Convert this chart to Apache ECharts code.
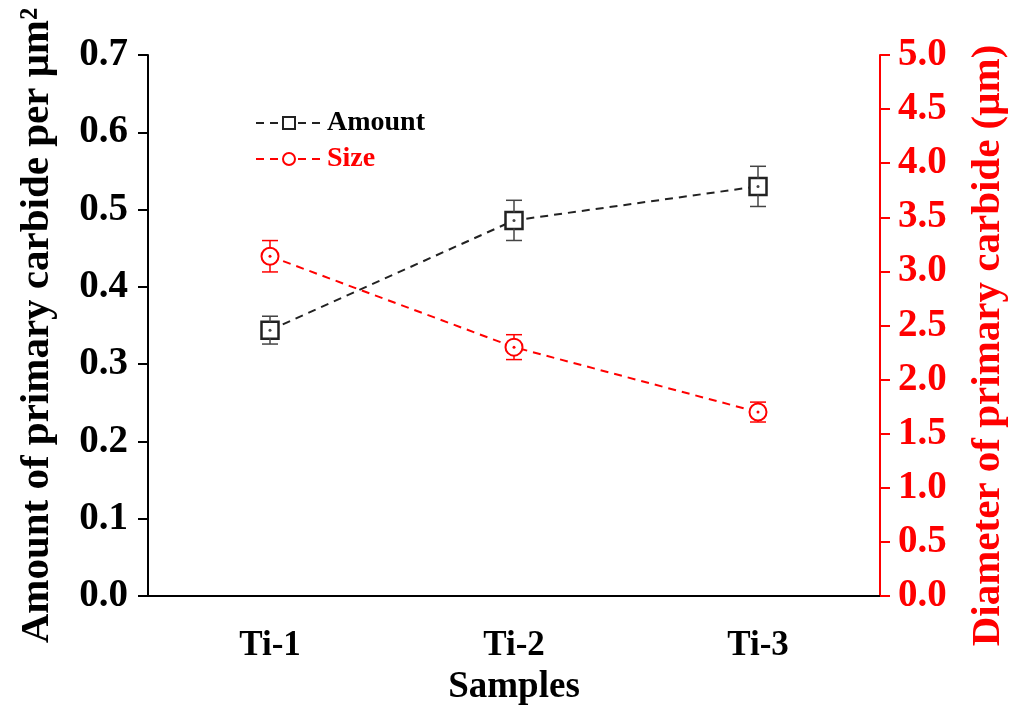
<!DOCTYPE html>
<html><head><meta charset="utf-8">
<script src="https://cdn.jsdelivr.net/npm/echarts@6/dist/echarts.min.js"></script>
<style>html,body{margin:0;padding:0;background:#fff}#c{width:1011px;height:715px}</style>
</head><body><div id="c"></div>
<script>
const categories = ['Ti-1', 'Ti-2', 'Ti-3'];
const amount = [0.344, 0.486, 0.530];
const amountErr = [0.018, 0.026, 0.026];
const size = [3.14, 2.30, 1.70];
const sizeErr = [0.145, 0.115, 0.092];

const FONT = "'Liberation Serif', 'Times New Roman', serif";
const RED = '#ff0000';

function errData(vals, errs) {
  return vals.map((v, i) => [i, v, errs[i]]);
}
function errRender(color) {
  return function (params, api) {
    const x = api.value(0), v = api.value(1), e = api.value(2);
    const top = api.coord([x, v + e]);
    const bot = api.coord([x, v - e]);
    const mid = api.coord([x, v]);
    const cap = 8;
    const st = { stroke: color, lineWidth: 1.5 };
    return {
      type: 'group',
      children: [
        { type: 'line', shape: { x1: top[0], y1: top[1], x2: top[0], y2: mid[1] - 8 }, style: st },
        { type: 'line', shape: { x1: bot[0], y1: bot[1], x2: bot[0], y2: mid[1] + 8 }, style: st },
        { type: 'line', shape: { x1: top[0] - cap, y1: top[1], x2: top[0] + cap, y2: top[1] }, style: st },
        { type: 'line', shape: { x1: bot[0] - cap, y1: bot[1], x2: bot[0] + cap, y2: bot[1] }, style: st },
        { type: 'circle', shape: { cx: mid[0], cy: mid[1], r: 1.5 }, style: { fill: color } }
      ]
    };
  };
}

const chart = echarts.init(document.getElementById('c'));
chart.setOption({
  animation: false,
  backgroundColor: '#fff',
  grid: { left: 148, right: 131, top: 55, bottom: 119, outerBoundsMode: 'none', containLabel: false },
  legend: {
    orient: 'vertical',
    left: 250, top: 104,
    itemWidth: 66, itemHeight: 15, itemGap: 8,
    data: [
      { name: 'Amount', textStyle: { color: '#000' } },
      { name: 'Size', textStyle: { color: RED } }
    ],
    textStyle: { fontFamily: FONT, fontWeight: 'bold', fontSize: 28 }
  },
  xAxis: [{
    type: 'category',
    data: categories,
    boundaryGap: true,
    name: 'Samples',
    nameLocation: 'middle',
    nameGap: 73,
    nameTextStyle: { fontFamily: FONT, fontWeight: 'bold', fontSize: 37, color: '#000' },
    axisLine: { lineStyle: { color: '#000', width: 2 } },
    axisTick: { alignWithLabel: true, inside: false, length: 10, lineStyle: { color: '#000', width: 2 } },
    axisLabel: { fontFamily: FONT, fontWeight: 'bold', fontSize: 35, color: '#000', margin: 32 },
    splitLine: { show: false }
  }, {
    type: 'category',
    data: categories,
    position: 'top',
    axisLine: { lineStyle: { color: '#000', width: 2 } },
    axisTick: { show: false },
    axisLabel: { show: false }
  }],
  yAxis: [{
    type: 'value',
    min: 0, max: 0.7, interval: 0.1,
    position: 'left',
    name: 'Amount of primary carbide per μm²',
    nameLocation: 'middle',
    nameGap: 90,
    nameRotate: 90,
    nameTextStyle: { fontFamily: FONT, fontWeight: 'bold', fontSize: 41, color: '#000' },
    axisLine: { show: true, lineStyle: { color: '#000', width: 2 } },
    axisTick: { show: true, length: 10, lineStyle: { color: '#000', width: 2 } },
    axisLabel: { fontFamily: FONT, fontWeight: 'bold', fontSize: 39, color: '#000', margin: 20, formatter: v => v.toFixed(1) },
    splitLine: { show: false }
  }, {
    type: 'value',
    min: 0, max: 5, interval: 0.5,
    position: 'right',
    name: 'Diameter of primary carbide (μm)',
    nameLocation: 'middle',
    nameGap: 88,
    nameRotate: 90,
    nameTextStyle: { fontFamily: FONT, fontWeight: 'bold', fontSize: 41, color: RED, padding: [0, 40, 0, 0] },
    axisLine: { show: true, lineStyle: { color: RED, width: 2 } },
    axisTick: { show: true, length: 10, lineStyle: { color: RED, width: 2 } },
    axisLabel: { fontFamily: FONT, fontWeight: 'bold', fontSize: 39, color: RED, margin: 18, formatter: v => v.toFixed(1) },
    splitLine: { show: false }
  }],
  series: [{
    name: 'Amount',
    type: 'line',
    data: amount,
    xAxisIndex: 0, yAxisIndex: 0,
    symbol: 'rect', symbolSize: 17,
    itemStyle: { color: '#fff', borderColor: '#222', borderWidth: 2.5 },
    lineStyle: { color: '#222', width: 2, type: [8, 6] },
    z: 3
  }, {
    name: 'Size',
    type: 'line',
    data: size,
    xAxisIndex: 0, yAxisIndex: 1,
    symbol: 'circle', symbolSize: 17,
    itemStyle: { color: '#fff', borderColor: RED, borderWidth: 2 },
    lineStyle: { color: RED, width: 2, type: [8, 6] },
    z: 3
  }, {
    type: 'custom',
    name: 'AmountErr',
    xAxisIndex: 0, yAxisIndex: 0,
    data: errData(amount, amountErr),
    renderItem: errRender('#444'),
    encode: { x: 0, y: [1] },
    z: 4
  }, {
    type: 'custom',
    name: 'SizeErr',
    xAxisIndex: 0, yAxisIndex: 1,
    data: errData(size, sizeErr),
    renderItem: errRender(RED),
    encode: { x: 0, y: [1] },
    z: 4
  }]
});
</script></body></html>
